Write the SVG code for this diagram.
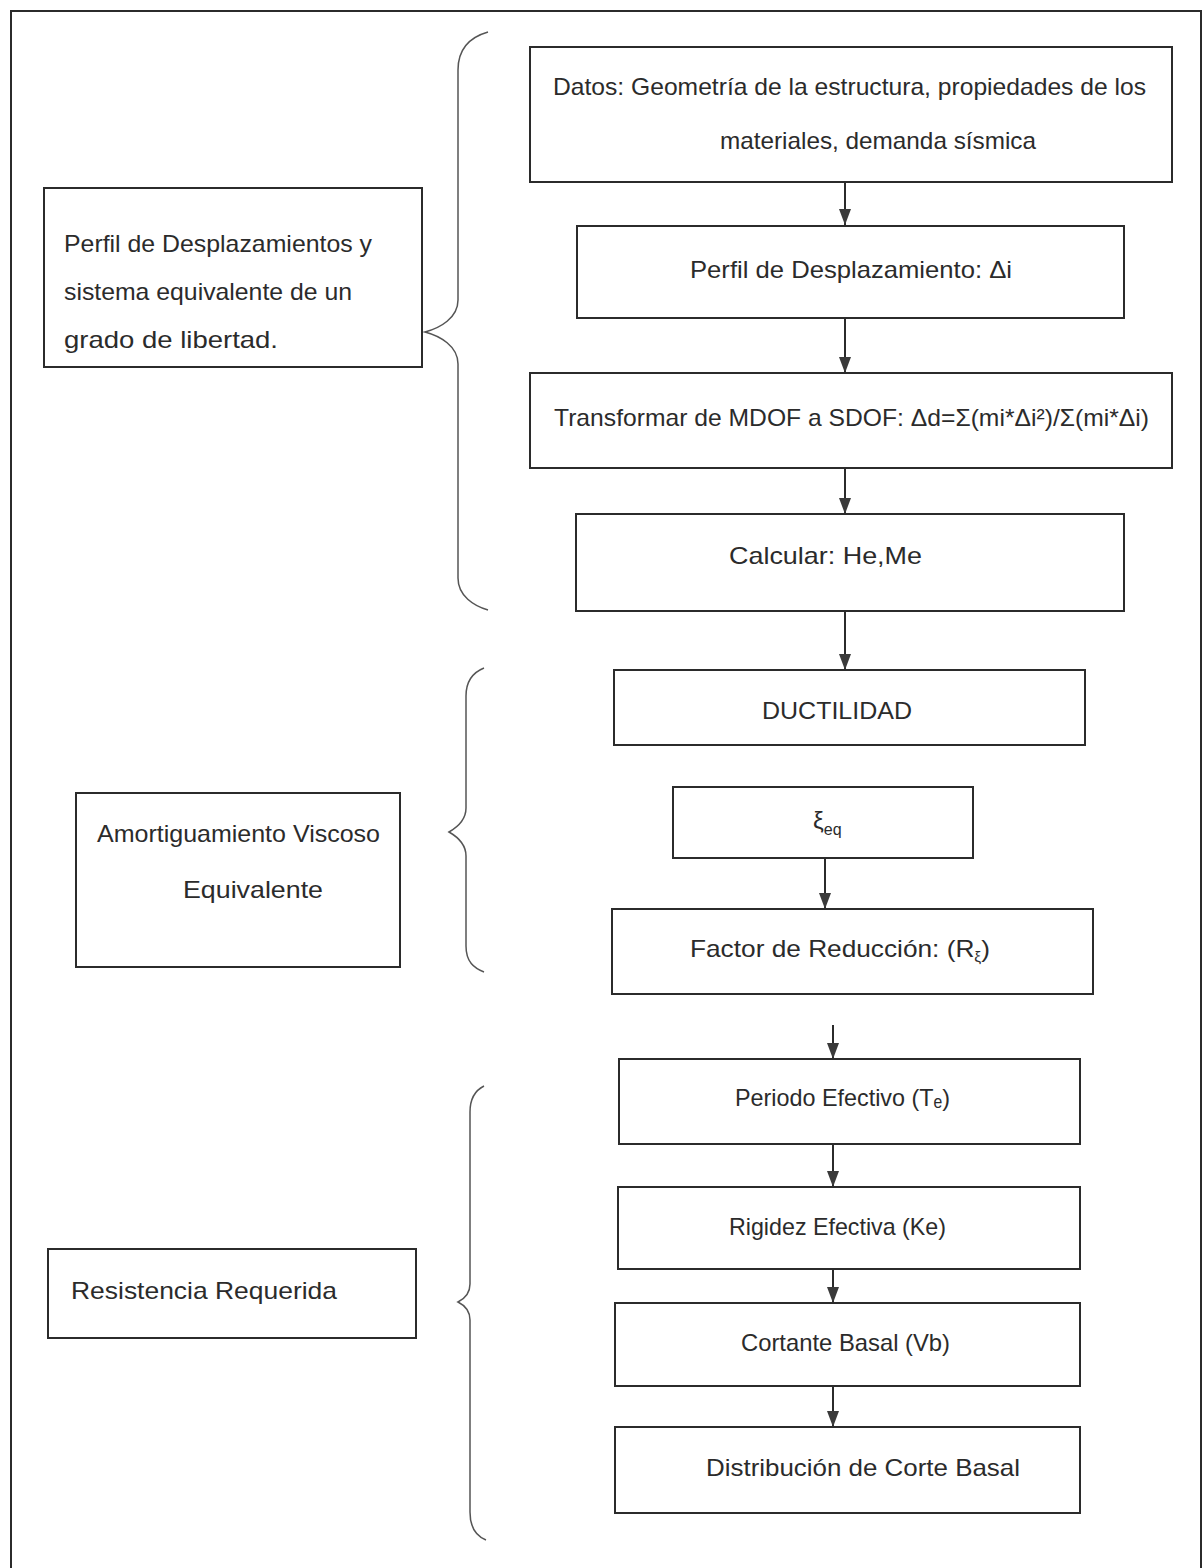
<svg xmlns="http://www.w3.org/2000/svg" width="1204" height="1568" viewBox="0 0 1204 1568">
<style>
.box{fill:#fff;stroke:#2b2b2b;stroke-width:2}
.t{font-family:"Liberation Sans","DejaVu Sans",Arial,sans-serif;font-size:24px;fill:#2b2b2b}
.brace{fill:none;stroke:#555;stroke-width:1.5}
.conn{stroke:#2b2b2b;stroke-width:2;fill:none;marker-end:url(#ah)}
</style>
<defs>
<marker id="ah" markerWidth="16" markerHeight="12" refX="16" refY="6" orient="auto" markerUnits="userSpaceOnUse" viewBox="0 0 16 12">
<path d="M0,0 L16,6 L0,12 Z" fill="#3a3a3a"/>
</marker>
</defs>
<rect width="1204" height="1568" fill="#fff"/>
<path d="M11,1568 V11 H1201 V1568" fill="none" stroke="#2b2b2b" stroke-width="2"/>

<g id="connectors">
<line class="conn" x1="845" y1="182" x2="845" y2="225"/>
<line class="conn" x1="845" y1="318" x2="845" y2="373"/>
<line class="conn" x1="845" y1="468" x2="845" y2="514"/>
<line class="conn" x1="845" y1="611" x2="845" y2="670"/>
<line class="conn" x1="825" y1="858" x2="825" y2="909"/>
<line class="conn" x1="833" y1="1025" x2="833" y2="1059"/>
<line class="conn" x1="833" y1="1144" x2="833" y2="1187"/>
<line class="conn" x1="833" y1="1269" x2="833" y2="1303"/>
<line class="conn" x1="833" y1="1386" x2="833" y2="1427"/>
</g>

<g id="braces">
<path class="brace" d="M488,32 C474,36 458,46 458,70 L458,300 C458,318 440,328 425,332 C440,336 458,346 458,364 L458,578 C458,596 474,606 488,610"/>
<path class="brace" d="M484,668 C474,672 466,680 466,696 L466,808 C466,820 456,828 449,832 C456,836 466,844 466,856 L466,946 C466,962 474,968 484,972"/>
<path class="brace" d="M484,1086 C476,1090 470,1098 470,1112 L470,1284 C470,1294 464,1299 458,1302 C464,1305 470,1310 470,1320 L470,1512 C470,1528 476,1536 486,1540"/>
</g>

<g id="n1"><rect class="box" x="530" y="47" width="642" height="135"/>
<text class="t" x="553" y="95" textLength="593" lengthAdjust="spacingAndGlyphs">Datos: Geometría de la estructura, propiedades de los</text>
<text class="t" x="720" y="149" textLength="316" lengthAdjust="spacingAndGlyphs">materiales, demanda sísmica</text></g>

<g id="n2"><rect class="box" x="577" y="226" width="547" height="92"/>
<text class="t" x="690" y="278" textLength="322" lengthAdjust="spacingAndGlyphs">Perfil de Desplazamiento: Δi</text></g>

<g id="n3"><rect class="box" x="530" y="373" width="642" height="95"/>
<text class="t" x="554" y="426" textLength="595" lengthAdjust="spacingAndGlyphs">Transformar de MDOF a SDOF: Δd=Σ(mi*Δi²)/Σ(mi*Δi)</text></g>

<g id="n4"><rect class="box" x="576" y="514" width="548" height="97"/>
<text class="t" x="729" y="564" textLength="193" lengthAdjust="spacingAndGlyphs">Calcular: He,Me</text></g>

<g id="n5"><rect class="box" x="614" y="670" width="471" height="75"/>
<text class="t" x="762" y="719" textLength="150" lengthAdjust="spacingAndGlyphs">DUCTILIDAD</text></g>

<g id="n6"><rect class="box" x="673" y="787" width="300" height="71"/>
<text class="t" x="813" y="829">ξ<tspan dy="6" font-size="16">eq</tspan></text></g>

<g id="n7"><rect class="box" x="612" y="909" width="481" height="85"/>
<text class="t" x="690" y="957" textLength="300" lengthAdjust="spacingAndGlyphs">Factor de Reducción: (R<tspan dy="5" font-size="14">ξ</tspan><tspan dy="-5">)</tspan></text></g>

<g id="n8"><rect class="box" x="619" y="1059" width="461" height="85"/>
<text class="t" x="735" y="1106" textLength="215" lengthAdjust="spacingAndGlyphs">Periodo Efectivo (Tₑ)</text></g>

<g id="n9"><rect class="box" x="618" y="1187" width="462" height="82"/>
<text class="t" x="729" y="1235" textLength="217" lengthAdjust="spacingAndGlyphs">Rigidez Efectiva (Ke)</text></g>

<g id="n10"><rect class="box" x="615" y="1303" width="465" height="83"/>
<text class="t" x="741" y="1351" textLength="209" lengthAdjust="spacingAndGlyphs">Cortante Basal (Vb)</text></g>

<g id="n11"><rect class="box" x="615" y="1427" width="465" height="86"/>
<text class="t" x="706" y="1476" textLength="314" lengthAdjust="spacingAndGlyphs">Distribución de Corte Basal</text></g>

<g id="g1"><rect class="box" x="44" y="188" width="378" height="179"/>
<text class="t" x="64" y="252" textLength="308" lengthAdjust="spacingAndGlyphs">Perfil de Desplazamientos y</text>
<text class="t" x="64" y="300" textLength="288" lengthAdjust="spacingAndGlyphs">sistema equivalente de un</text>
<text class="t" x="64" y="348" textLength="214" lengthAdjust="spacingAndGlyphs">grado de libertad.</text></g>

<g id="g2"><rect class="box" x="76" y="793" width="324" height="174"/>
<text class="t" x="97" y="842" textLength="283" lengthAdjust="spacingAndGlyphs">Amortiguamiento Viscoso</text>
<text class="t" x="183" y="898" textLength="140" lengthAdjust="spacingAndGlyphs">Equivalente</text></g>

<g id="g3"><rect class="box" x="48" y="1249" width="368" height="89"/>
<text class="t" x="71" y="1299" textLength="266" lengthAdjust="spacingAndGlyphs">Resistencia Requerida</text></g>
</svg>
